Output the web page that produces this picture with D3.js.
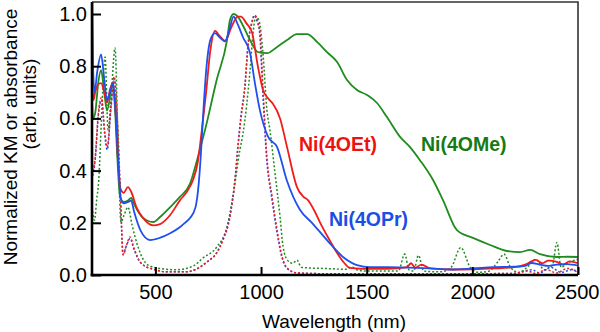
<!DOCTYPE html>
<html>
<head>
<meta charset="utf-8">
<script src="https://cdn.jsdelivr.net/npm/d3@7"></script>
<style>
  html, body { margin: 0; padding: 0; background: #fff; }
  svg { display: block; font-family: "Liberation Sans", Arial, sans-serif; }
</style>
</head>
<body>
<svg id="chart" width="600" height="332"></svg>
<script>
// wavelength (nm) / normalized value pairs, one array per trace
const ni4OEtKM = [
  [200, 0.78], [207, 0.67], [215, 0.70], [228, 0.73], [243, 0.735], [258, 0.70], [271, 0.66],
  [285, 0.71], [298, 0.735], [310, 0.65], [322, 0.45], [335, 0.33], [350, 0.315], [370, 0.337],
  [385, 0.32], [410, 0.26], [450, 0.21], [490, 0.19], [522, 0.195], [570, 0.23], [617, 0.287],
  [650, 0.32], [678, 0.364], [700, 0.43], [720, 0.556], [740, 0.70], [760, 0.86], [782, 0.935],
  [805, 0.915], [830, 0.897], [860, 0.95], [890, 0.99], [905, 0.99], [930, 0.965], [957, 0.93],
  [985, 0.80], [1009, 0.71], [1035, 0.675], [1057, 0.655], [1090, 0.60], [1123, 0.49],
  [1170, 0.337], [1200, 0.30], [1222, 0.287], [1250, 0.25], [1280, 0.20], [1320, 0.14],
  [1360, 0.084], [1395, 0.045], [1421, 0.027], [1470, 0.024], [1516, 0.024], [1600, 0.024],
  [1690, 0.03], [1710, 0.045], [1730, 0.028], [1760, 0.04], [1800, 0.025], [1900, 0.021],
  [2000, 0.022], [2100, 0.025], [2200, 0.03], [2250, 0.04], [2280, 0.052], [2300, 0.058],
  [2330, 0.045], [2360, 0.055], [2400, 0.05], [2430, 0.04], [2460, 0.052], [2500, 0.045]
];

const ni4OPrKM = [
  [200, 1.15], [205, 0.80], [212, 0.70], [225, 0.78], [243, 0.845], [258, 0.75], [271, 0.67],
  [285, 0.70], [300, 0.735], [312, 0.62], [325, 0.42], [337, 0.29], [350, 0.275], [370, 0.28],
  [385, 0.285], [400, 0.24], [430, 0.17], [475, 0.134], [520, 0.142], [570, 0.16], [617, 0.184],
  [640, 0.20], [664, 0.218], [690, 0.26], [705, 0.35], [715, 0.46], [725, 0.60], [740, 0.78],
  [760, 0.90], [782, 0.927], [805, 0.91], [830, 0.895], [850, 0.94], [870, 0.99], [890, 0.96],
  [915, 0.91], [948, 0.85], [970, 0.74], [995, 0.63], [1033, 0.53], [1076, 0.49], [1123, 0.36],
  [1184, 0.25], [1241, 0.20], [1312, 0.134], [1388, 0.069], [1454, 0.038], [1516, 0.03],
  [1600, 0.03], [1700, 0.028], [1800, 0.025], [1900, 0.021], [2000, 0.025], [2100, 0.03],
  [2200, 0.032], [2250, 0.035], [2280, 0.046], [2320, 0.04], [2360, 0.035], [2400, 0.04],
  [2450, 0.042], [2500, 0.036]
];

const ni4OMeKM = [
  [200, 0.67], [205, 0.60], [215, 0.62], [230, 0.74], [243, 0.785], [258, 0.70], [271, 0.63],
  [285, 0.68], [295, 0.735], [308, 0.65], [320, 0.45], [333, 0.30], [350, 0.28], [370, 0.285],
  [385, 0.295], [400, 0.27], [440, 0.22], [490, 0.203], [522, 0.222], [570, 0.26], [617, 0.30],
  [664, 0.35], [697, 0.44], [735, 0.556], [790, 0.747], [839, 0.90], [853, 0.977], [870, 1.0],
  [890, 0.99], [915, 0.955], [948, 0.90], [986, 0.854], [1028, 0.85], [1076, 0.874],
  [1123, 0.90], [1170, 0.923], [1218, 0.923], [1265, 0.893], [1312, 0.854], [1360, 0.816],
  [1407, 0.747], [1454, 0.709], [1501, 0.69], [1549, 0.659], [1596, 0.605], [1658, 0.529],
  [1705, 0.49], [1752, 0.44], [1814, 0.364], [1861, 0.287], [1927, 0.172], [2003, 0.142],
  [2084, 0.115], [2164, 0.092], [2226, 0.088], [2273, 0.096], [2320, 0.08], [2401, 0.069],
  [2450, 0.07], [2500, 0.069]
];

const ni4OEtAbs = [
  [200, 0.38], [215, 0.45], [230, 0.62], [245, 0.68], [260, 0.55], [272, 0.49], [290, 0.65],
  [305, 0.76], [320, 0.60], [335, 0.30], [347, 0.077], [362, 0.11], [380, 0.146], [400, 0.10],
  [432, 0.046], [498, 0.02], [560, 0.012], [640, 0.012], [700, 0.025], [744, 0.05], [790, 0.084],
  [820, 0.134], [853, 0.222], [877, 0.364], [891, 0.49], [905, 0.60], [924, 0.72], [938, 0.874],
  [957, 0.966], [970, 0.995], [985, 0.97], [995, 0.93], [1009, 0.72], [1028, 0.45],
  [1052, 0.30], [1076, 0.172], [1100, 0.07], [1123, 0.027], [1170, 0.008], [1300, 0.005],
  [1600, 0.005], [1800, 0.005], [2000, 0.005], [2200, 0.006], [2260, 0.015], [2300, 0.006],
  [2350, 0.02], [2400, 0.008], [2450, 0.025], [2500, 0.01]
];

const ni4OPrAbs = [
  [200, 0.37], [215, 0.44], [230, 0.61], [245, 0.67], [260, 0.54], [272, 0.48], [290, 0.64],
  [305, 0.75], [320, 0.58], [335, 0.29], [347, 0.08], [362, 0.11], [380, 0.14], [400, 0.095],
  [432, 0.045], [498, 0.02], [560, 0.012], [640, 0.012], [700, 0.025], [744, 0.05], [790, 0.086],
  [820, 0.138], [853, 0.23], [877, 0.37], [891, 0.50], [905, 0.61], [924, 0.73], [938, 0.88],
  [957, 0.97], [968, 0.995], [982, 0.97], [993, 0.93], [1007, 0.72], [1026, 0.45],
  [1050, 0.30], [1074, 0.17], [1098, 0.07], [1121, 0.027], [1170, 0.008], [1300, 0.005],
  [1600, 0.005], [1800, 0.005], [2000, 0.005], [2200, 0.006], [2280, 0.02], [2320, 0.008],
  [2370, 0.03], [2420, 0.01], [2470, 0.02], [2500, 0.012]
];

const ni4OMeAbs = [
  [200, 0.26], [212, 0.21], [222, 0.287], [232, 0.364], [245, 0.60], [262, 0.835], [276, 0.556],
  [292, 0.70], [309, 0.87], [322, 0.55], [337, 0.203], [352, 0.23], [370, 0.26], [390, 0.19],
  [418, 0.107], [465, 0.038], [520, 0.025], [600, 0.02], [680, 0.035], [725, 0.065],
  [790, 0.107], [839, 0.184], [867, 0.30], [900, 0.48], [915, 0.544], [948, 0.785],
  [962, 0.927], [976, 0.99], [992, 0.97], [1009, 0.85], [1028, 0.63], [1042, 0.556],
  [1066, 0.39], [1090, 0.222], [1104, 0.11], [1125, 0.057], [1150, 0.045], [1170, 0.057],
  [1190, 0.03], [1230, 0.027], [1300, 0.025], [1400, 0.022], [1430, 0.03], [1460, 0.018],
  [1500, 0.015], [1650, 0.015], [1680, 0.08], [1700, 0.02], [1722, 0.015], [1745, 0.075],
  [1770, 0.015], [1850, 0.012], [1900, 0.03], [1945, 0.105], [1990, 0.03], [2030, 0.01],
  [2080, 0.015], [2120, 0.05], [2150, 0.08], [2180, 0.03], [2220, 0.01], [2260, 0.03],
  [2300, 0.06], [2340, 0.02], [2380, 0.04], [2400, 0.125], [2420, 0.03], [2460, 0.05],
  [2500, 0.06]
];

const xTicks = [500, 1000, 1500, 2000, 2500];
const yTicks = [0, 0.2, 0.4, 0.6, 0.8, 1.0];

const seriesLabels = ["Ni(4OEt)", "Ni(4OPr)", "Ni(4OMe)"];

// layout
const PLOT_LEFT = 92;
const PLOT_RIGHT = 578;
const PLOT_TOP = 2;
const PLOT_BOTTOM = 275;

const RED = "#f01c1c";
const BLUE = "#1f50ec";
const GREEN = "#1f8c1f";

const svg = d3.select("#chart");

const x = d3.scaleLinear().domain([200, 2500]).range([PLOT_LEFT, PLOT_RIGHT]);
const y = d3.scaleLinear().domain([0, 1.046]).range([PLOT_BOTTOM, PLOT_TOP]);

svg.append("defs").append("clipPath")
  .attr("id", "plot-clip")
  .append("rect")
  .attr("x", PLOT_LEFT)
  .attr("y", PLOT_TOP)
  .attr("width", PLOT_RIGHT - PLOT_LEFT)
  .attr("height", PLOT_BOTTOM - PLOT_TOP);

const line = d3.line()
  .x(d => x(d[0]))
  .y(d => y(d[1]))
  .curve(d3.curveMonotoneX);

const traces = svg.append("g").attr("clip-path", "url(#plot-clip)");

// absorbance (dotted) under the KM spectra
const dotted = [
  { data: ni4OMeAbs, color: GREEN },
  { data: ni4OPrAbs, color: BLUE },
  { data: ni4OEtAbs, color: RED }
];
const solid = [
  { data: ni4OMeKM, color: GREEN },
  { data: ni4OEtKM, color: RED },
  { data: ni4OPrKM, color: BLUE }
];

traces.selectAll("path.abs")
  .data(dotted)
  .join("path")
  .attr("class", "abs")
  .attr("d", d => line(d.data))
  .attr("fill", "none")
  .attr("stroke", d => d.color)
  .attr("stroke-width", 1.5)
  .attr("stroke-dasharray", "2,2")
  .attr("stroke-dashoffset", (d, i) => i * 1.3);

traces.selectAll("path.km")
  .data(solid)
  .join("path")
  .attr("class", "km")
  .attr("d", d => line(d.data))
  .attr("fill", "none")
  .attr("stroke", d => d.color)
  .attr("stroke-width", 1.8)
  .attr("stroke-linejoin", "round");

// frame: thin top/right, heavy left/bottom axes
svg.append("path")
  .attr("d", `M${PLOT_LEFT},${PLOT_TOP}H${PLOT_RIGHT}V${PLOT_BOTTOM}`)
  .attr("fill", "none")
  .attr("stroke", "#333")
  .attr("stroke-width", 1.6);

const xAxis = svg.append("g")
  .attr("transform", `translate(0,${PLOT_BOTTOM})`)
  .call(d3.axisBottom(x).tickValues(xTicks).tickFormat(d3.format("d"))
    .tickSizeInner(-8).tickSizeOuter(0).tickPadding(10));

const yAxis = svg.append("g")
  .attr("transform", `translate(${PLOT_LEFT},0)`)
  .call(d3.axisLeft(y).tickValues(yTicks).tickFormat(d3.format(".1f"))
    .tickSizeInner(-9).tickSizeOuter(0).tickPadding(5));

[xAxis, yAxis].forEach(g => {
  g.select(".domain").attr("stroke", "#000").attr("stroke-width", 2.6);
  g.selectAll(".tick line").attr("stroke", "#000").attr("stroke-width", 2);
  g.selectAll(".tick text")
    .attr("fill", "#000")
    .style("font-size", "20px")
    .style("font-family", "'Liberation Sans', Arial, sans-serif");
});
yAxis.select(".domain").attr("d", `M0,${PLOT_TOP}V${PLOT_BOTTOM + 1.3}`);
xAxis.select(".domain").attr("d", `M${PLOT_LEFT - 1.3},0H${PLOT_RIGHT}`);
// keep the last wavelength label inside the page edge
xAxis.selectAll(".tick text").filter(d => d === 2500)
  .attr("text-anchor", "end")
  .attr("x", 600 - PLOT_RIGHT - 1);

// axis titles
svg.append("text")
  .attr("x", (PLOT_LEFT + PLOT_RIGHT) / 2 - 1)
  .attr("y", 328)
  .attr("text-anchor", "middle")
  .style("font-size", "19px")
  .text("Wavelength (nm)");

svg.append("text")
  .attr("transform", "translate(17,137) rotate(-90)")
  .attr("text-anchor", "middle")
  .style("font-size", "19px")
  .text("Normalized KM or absorbance");

svg.append("text")
  .attr("transform", "translate(36,104) rotate(-90)")
  .attr("text-anchor", "middle")
  .style("font-size", "19px")
  .text("(arb. units)");

// series labels
const labelSpecs = [
  { text: seriesLabels[0], color: "#ee1111", x: 299, y: 151 },
  { text: seriesLabels[1], color: "#1a4fe6", x: 329, y: 226 },
  { text: seriesLabels[2], color: "#157a15", x: 421, y: 151 }
];
svg.selectAll("text.series")
  .data(labelSpecs)
  .join("text")
  .attr("class", "series")
  .attr("x", d => d.x)
  .attr("y", d => d.y)
  .attr("fill", d => d.color)
  .style("font-size", "19.5px")
  .style("font-weight", "bold")
  .text(d => d.text);
</script>
</body>
</html>
